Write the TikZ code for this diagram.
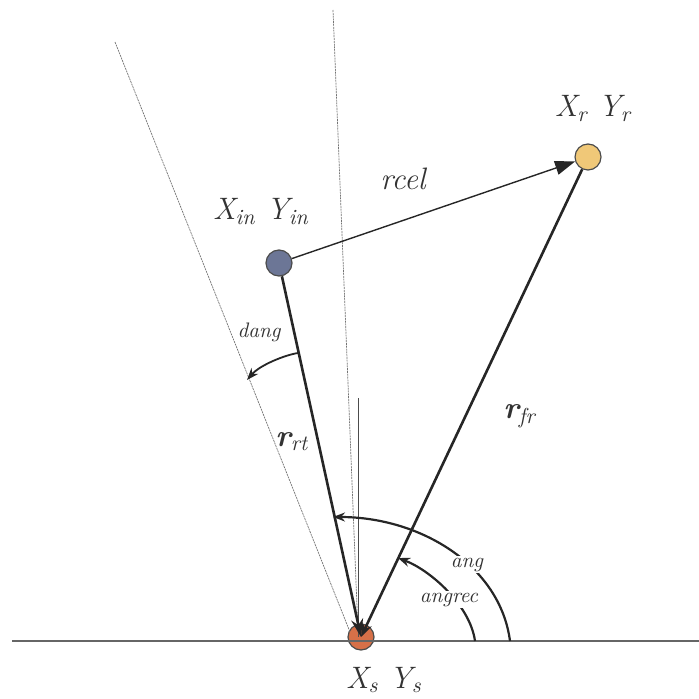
\documentclass[tikz,border=0pt]{standalone}
\usetikzlibrary{arrows.meta}

\definecolor{srcfill}{RGB}{214,112,72}
\definecolor{infill}{RGB}{108,118,150}
\definecolor{recfill}{RGB}{240,200,120}

\begin{document}
\begin{tikzpicture}[
  x=0.5pt, y=-0.5pt,
  pt/.style={draw=black!70, circle, minimum size=13pt, inner sep=0pt, line width=0.6pt},
  lbl/.style={font=\fontsize{15.5}{18}\selectfont\itshape, text=black!80, anchor=base, inner sep=0pt},
  small/.style={font=\fontsize{10.5}{13}\selectfont\itshape, text=black!80, anchor=base, inner sep=1pt, fill=white},
  vec/.style={line width=1.3pt, draw=black!85},
  guide/.style={draw=black!55, line width=0.35pt, dash pattern=on 1pt off 0.4pt},
  swing/.style={line width=1.1pt, draw=black!85, -{Stealth[length=6pt,width=4.5pt]}}
]
  \useasboundingbox (0,0) rectangle (699,699);

  % reference lines
  \coordinate (hl)   at (12,641);
  \coordinate (hr)   at (699,641);
  \coordinate (vtop) at (333,10);
  \coordinate (vbot) at (358,632);
  \coordinate (ltop) at (115,42);
  \coordinate (lbot) at (350,632);
  \coordinate (plumb) at (358,398);

  \node[pt, fill=srcfill] (src) at (361,637) {};
  \node[pt, fill=infill]  (inp) at (279,263) {};
  \node[pt, fill=recfill] (rec) at (588,157) {};

  \draw[guide] (vtop) -- (vbot);
  \draw[guide] (ltop) -- (lbot);
  \draw[black!60, line width=0.75pt] (hl) -- (hr);
  \draw[black!70, line width=0.5pt] (plumb) -- (plumb |- src.center);

  % vectors
  \draw[vec, -{Stealth[length=9pt,width=6pt]}] (inp) -- (src.center);
  \draw[vec, -{Stealth[length=7pt,width=5pt]}] (rec) -- (src.center);
  \draw[black!85, line width=0.7pt, -{Triangle[length=10pt,width=7pt]}] (inp) -- (rec);

  % angles
  \coordinate (dA) at (298,353);
  \coordinate (dB) at (247,380);
  \draw[swing, line width=0.9pt] (dA) .. controls (285,355) and (260,365) .. (dB);

  \coordinate (aA) at (510,641);
  \coordinate (aB) at (333,517);
  \draw[swing] (aA) .. controls (500,565) and (420,517) .. (aB);

  \coordinate (rA) at (475,641);
  \coordinate (rB) at (398,558);
  \draw[swing] (rA) .. controls (470,605) and (430,570) .. (rB);

  % labels
  \node[small] (angl)  at (467,567) {ang};
  \node[small] (angrl) at (449,602) {angrec};
  \node[small, fill=none] (dangl) at (259,337) {dang};

  \node[lbl] (rcell) at (403,190) {rcel};
  \node[lbl] (inl)   at (261,220) {X\textsubscript{in} Y\textsubscript{in}};
  \node[lbl] (recl)  at (593,117) {X\textsubscript{r} Y\textsubscript{r}};
  \node[lbl] (srcl)  at (384,688) {X\textsubscript{s} Y\textsubscript{s}};
  \node[lbl, anchor=base west] (rrtl) at (275,446) {\textbf{r}\textsubscript{rt}};
  \node[lbl, anchor=base west] (rfrl) at (503,418) {\textbf{r}\textsubscript{fr}};
\end{tikzpicture}
\end{document}
